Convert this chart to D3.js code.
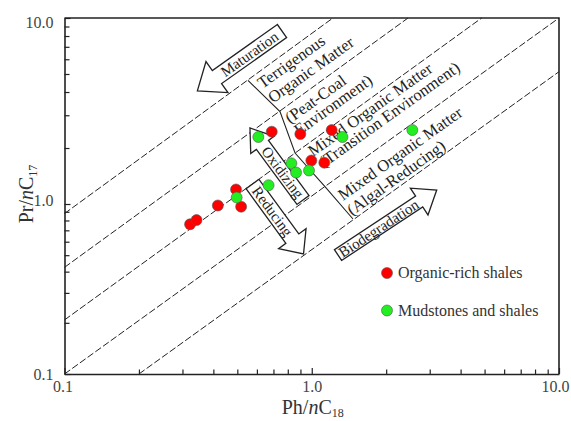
<!DOCTYPE html>
<html>
<head>
<meta charset="utf-8">
<script src="https://cdn.jsdelivr.net/npm/d3@7"></script>
<style>
body { margin: 0; background: #fff; }
text { font-family: "Liberation Serif", "Times New Roman", serif; fill: #222; }
</style>
</head>
<body>
<svg></svg>
<script>
const width = 571;
const height = 421;

// samples (Ph/nC18, Pr/nC17)
const organicPh = [0.322, 0.342, 0.417, 0.494, 0.518, 0.689, 0.899, 1.204, 0.996, 1.124];
const organicPr = [0.760, 0.805, 0.980, 1.197, 0.964, 2.447, 2.378, 2.499, 1.713, 1.667];
const mudPh = [0.497, 0.608, 0.669, 0.827, 0.864, 0.975, 1.331, 2.551];
const mudPr = [1.084, 2.292, 1.261, 1.655, 1.477, 1.514, 2.292, 2.499];

// dashed boundary lines, start and end points
const lineStartPh = [0.1, 0.1, 0.1, 0.1, 0.2];
const lineStartPr = [0.879, 0.424, 0.208, 0.1, 0.1];
const lineEndPh = [1.218, 2.451, 4.867, 10, 10];
const lineEndPr = [10, 10, 10, 10, 5.144];

// zig-zag bracket between the zones
const bracketPh = [0.552, 0.744, 0.856, 1.131, 1.468];
const bracketPr = [4.62, 3.14, 1.88, 1.24, 0.816];

// zone labels
const zoneText = ["Terrigenous", "Organic Matter", "(Peat-Coal", "Environment)",
  "Mixed Organic Matter", "(Transition Environment)", "Mixed Organic Matter", "(Algal-Reducing)"];
const zonePh = [0.6325, 0.6973, 0.8166, 0.8881, 1.0118, 1.121, 1.338, 1.455];
const zonePr = [4.153, 3.47, 2.692, 2.321, 1.789, 1.562, 1.038, 0.850];

// block arrows: tail -> tip
const arrowText = ["Maturation", "Oxidizing", "Reducing", "Biodegradation"];
const arrowTailPh = [0.758, 0.9218, 0.576, 1.277];
const arrowTailPr = [8.51, 1.051, 1.281, 0.501];
const arrowTipPh = [0.3447, 0.5625, 0.9262, 3.202];
const arrowTipPr = [4.055, 2.562, 0.508, 1.189];

const majorTicks = [0.1, 1, 10];
const minorSteps = [2, 3, 4, 5, 6, 7, 8, 9];
const seriesNames = ["Organic-rich shales", "Mudstones and shales"];
const seriesColors = ["#ff0000", "#22ee22"];

var xScale = d3.scaleLog().domain([0.1, 10]).range([64.5, 559]);
var yScale = d3.scaleLog().domain([0.1, 1, 10]).range([374, 204, 18]);

var svg = d3.select("svg").attr("width", width).attr("height", height);

var tickVals = majorTicks.concat(d3.merge([0.1, 1].map(d => minorSteps.map(s => +(d * s).toFixed(2)))));
var fmt = d => majorTicks.includes(d) ? d3.format(".1f")(d) : "";

var xAxis = svg.append("g")
    .attr("transform", `translate(0,${yScale(0.1)})`)
    .call(d3.axisBottom(xScale).tickValues(tickVals).tickFormat(fmt)
        .tickSizeInner(-6).tickSizeOuter(0).tickPadding(7));
xAxis.selectAll(".tick line").attr("y2", d => majorTicks.includes(d) ? -6 : -4.5);
xAxis.selectAll(".tick text").attr("dx", d => d == 10 ? -4 : (d == 0.1 ? -2 : 0));

var yAxis = svg.append("g")
    .attr("transform", `translate(${xScale(0.1)},0)`)
    .call(d3.axisLeft(yScale).tickValues(tickVals).tickFormat(fmt)
        .tickSizeInner(-6).tickSizeOuter(0).tickPadding(11));
yAxis.selectAll(".tick line").attr("x2", d => majorTicks.includes(d) ? 6 : 5);
yAxis.selectAll(".tick text").attr("dy", d => d == 10 ? "0.6em" : (d == 1 ? "0.1em" : "0.32em"));

svg.selectAll(".domain").attr("stroke", "#222").attr("stroke-width", 1.6);
svg.selectAll(".tick line").attr("stroke", "#222").attr("stroke-width", 1.2);
svg.selectAll(".tick text").attr("font-size", 16).style("fill", "#444")
    .attr("font-family", "Liberation Serif, serif");

// frame top and right
svg.append("path")
    .attr("d", `M${xScale(0.1)},${yScale(10)}H${xScale(10)}V${yScale(0.1)}`)
    .attr("fill", "none").attr("stroke", "#222").attr("stroke-width", 1.6);

// dashed lines
svg.selectAll("line.bound")
    .data(lineStartPh)
    .enter()
    .append("line")
    .attr("class", "bound")
    .attr("x1", (d, i) => xScale(lineStartPh[i]))
    .attr("y1", (d, i) => yScale(lineStartPr[i]))
    .attr("x2", (d, i) => xScale(lineEndPh[i]))
    .attr("y2", (d, i) => yScale(lineEndPr[i]))
    .attr("stroke", "#222")
    .attr("stroke-width", 1)
    .attr("stroke-dasharray", "7,2.5");

// bracket
var lineGenerator = d3.line().x(d => xScale(d[0])).y(d => yScale(d[1]));
svg.append("path")
    .attr("d", lineGenerator(bracketPh.map((d, i) => [d, bracketPr[i]])))
    .attr("fill", "none").attr("stroke", "#222").attr("stroke-width", 1.1);

// arrows
const shaftHalf = [8, 7.5, 8, 6.5];
const headHalf = [19, 14.5, 17, 16];
const headLen = [24, 21, 19, 21];
const arrowFont = [15, 15, 15, 15];

arrowText.forEach(function(label, i) {
    let t = [xScale(arrowTailPh[i]), yScale(arrowTailPr[i])];
    let h = [xScale(arrowTipPh[i]), yScale(arrowTipPr[i])];
    let dx = h[0] - t[0], dy = h[1] - t[1];
    let L = Math.hypot(dx, dy);
    let ux = dx / L, uy = dy / L, nx = -uy, ny = ux;
    let b = [h[0] - ux * headLen[i], h[1] - uy * headLen[i]];
    let sw = shaftHalf[i], hw = headHalf[i];
    let pts = [
        [t[0] + nx * sw, t[1] + ny * sw],
        [b[0] + nx * sw, b[1] + ny * sw],
        [b[0] + nx * hw, b[1] + ny * hw],
        h,
        [b[0] - nx * hw, b[1] - ny * hw],
        [b[0] - nx * sw, b[1] - ny * sw],
        [t[0] - nx * sw, t[1] - ny * sw]
    ];
    svg.append("path")
        .attr("d", "M" + pts.map(p => p.join(",")).join("L") + "Z")
        .attr("fill", "#fff").attr("stroke", "#222").attr("stroke-width", 1.3);
    let ang = Math.atan2(dy, dx) * 180 / Math.PI;
    if (dx < 0) ang = ang + 180;
    let cx = (t[0] + b[0]) / 2, cy = (t[1] + b[1]) / 2;
    svg.append("text")
        .attr("transform", `translate(${cx},${cy}) rotate(${ang})`)
        .attr("text-anchor", "middle")
        .attr("dy", "0.34em")
        .attr("font-size", arrowFont[i])
        .text(label);
});

// zone labels
svg.selectAll("text.zone")
    .data(zoneText)
    .enter()
    .append("text")
    .attr("class", "zone")
    .attr("transform", (d, i) => `translate(${xScale(zonePh[i])},${yScale(zonePr[i])}) rotate(-35.5)`)
    .attr("font-size", 16.5)
    .text(d => d);

// points
var groups = [[organicPh, organicPr], [mudPh, mudPr]];
groups.forEach(function(g, k) {
    svg.append("g")
        .selectAll("circle")
        .data(g[0])
        .enter()
        .append("circle")
        .attr("cx", d => xScale(d))
        .attr("cy", (d, i) => yScale(g[1][i]))
        .attr("r", 5.5)
        .attr("fill", seriesColors[k])
        .attr("stroke", "#555")
        .attr("stroke-width", 0.6);
});

// legend
var legend = svg.append("g").attr("transform", "translate(387,273)");
seriesNames.forEach(function(name, i) {
    legend.append("circle")
        .attr("cx", 0).attr("cy", i * 37.5).attr("r", 5.5)
        .attr("fill", seriesColors[i]).attr("stroke", "#555").attr("stroke-width", 0.6);
    legend.append("text")
        .attr("x", 11).attr("y", i * 37.5).attr("dy", "0.34em")
        .attr("font-size", 16).style("fill", "#333")
        .text(name);
});

// axis titles
var xt = svg.append("text")
    .attr("x", xScale(1) + 1).attr("y", 414)
    .attr("text-anchor", "middle").attr("font-size", 20).style("fill", "#333");
xt.append("tspan").text("Ph/");
xt.append("tspan").attr("font-style", "italic").text("n");
xt.append("tspan").text("C");
xt.append("tspan").attr("font-size", 12).attr("dy", 3).text("18");

var yt = svg.append("text")
    .attr("transform", "translate(33,194) rotate(-90)")
    .attr("text-anchor", "middle").attr("font-size", 20).style("fill", "#333");
yt.append("tspan").text("Pr/");
yt.append("tspan").attr("font-style", "italic").text("n");
yt.append("tspan").text("C");
yt.append("tspan").attr("font-size", 12).attr("dy", 4).text("17");
</script>
</body>
</html>
